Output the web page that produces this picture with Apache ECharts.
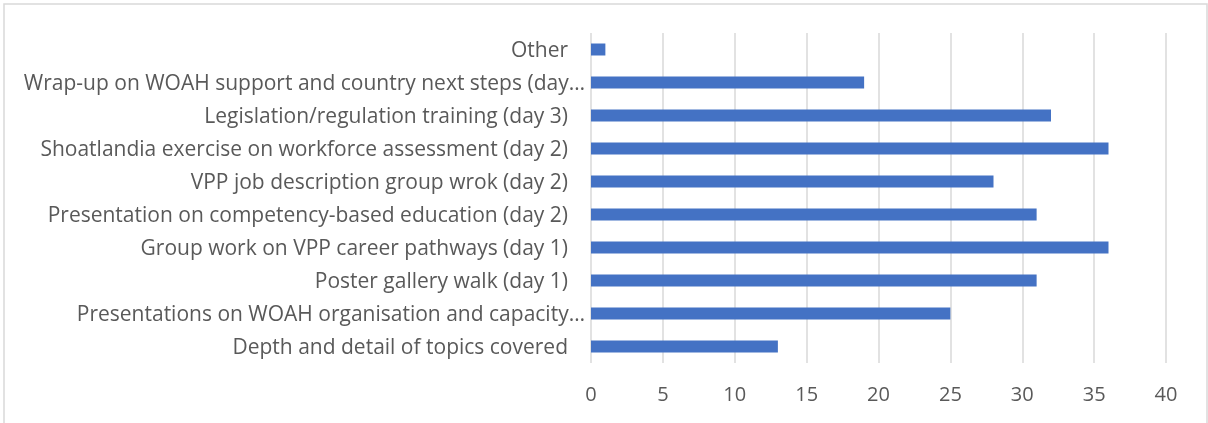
<!DOCTYPE html>
<html>
<head>
<meta charset="utf-8">
<script src="https://cdn.jsdelivr.net/npm/echarts@6/dist/echarts.min.js"></script>
<style>
  html, body { margin: 0; padding: 0; background: #fff; }
  #chart { width: 1208px; height: 423px; }
</style>
</head>
<body>
<div id="chart"></div>
<script>
// Workshop sessions, listed top to bottom
const categories = [
  'Other',
  'Wrap-up on WOAH support and country next steps (day…',
  'Legislation/regulation training (day 3)',
  'Shoatlandia exercise on workforce assessment (day 2)',
  'VPP job description group wrok (day 2)',
  'Presentation on competency-based education (day 2)',
  'Group work on VPP career pathways (day 1)',
  'Poster gallery walk (day 1)',
  'Presentations on WOAH organisation and capacity…',
  'Depth and detail of topics covered'
];
// Number of responses per session
const responses = [1, 19, 32, 36, 28, 31, 36, 31, 25, 13];
// Value axis ticks
const xTicks = [0, 5, 10, 15, 20, 25, 30, 35, 40];

const chart = echarts.init(document.getElementById('chart'), null, { renderer: 'canvas' });

const labelFont = '"Open Sans", sans-serif';

chart.setOption({
  animation: false,
  backgroundColor: '#ffffff',
  graphic: [{
    type: 'rect',
    shape: { x: 4, y: 4, width: 1203, height: 440 },
    style: { fill: 'none', stroke: '#d9d9d9', lineWidth: 1.5 },
    silent: true
  }],
  grid: { left: 591, right: 42, top: 33, bottom: 60, containLabel: false },
  xAxis: {
    type: 'value',
    min: xTicks[0],
    max: xTicks[xTicks.length - 1],
    interval: xTicks[1] - xTicks[0],
    axisLine: { show: false },
    axisTick: { show: false },
    splitLine: { show: true, lineStyle: { color: '#d9d9d9', width: 1.5 } },
    axisLabel: {
      color: '#595959',
      fontFamily: labelFont,
      fontSize: 20,
      margin: 22
    }
  },
  yAxis: {
    type: 'category',
    data: categories,
    inverse: true,
    axisLine: { show: false },
    axisTick: { show: false },
    splitLine: { show: false },
    axisLabel: {
      margin: 6,
      color: '#595959',
      fontFamily: labelFont,
      fontSize: 21,
      formatter: function (v) {
        return v.endsWith('…') ? '{t|' + v + '}' : '{n|' + v + '}';
      },
      rich: {
        t: { color: '#595959', fontFamily: labelFont, fontSize: 21, padding: [4, 0, 0, 0] },
        n: { color: '#595959', fontFamily: labelFont, fontSize: 21, padding: [4, 17, 0, 0] }
      }
    }
  },
  series: [{
    type: 'bar',
    data: responses,
    barWidth: 12,
    itemStyle: { color: '#4472c4' },
    silent: true
  }]
});
</script>
</body>
</html>
